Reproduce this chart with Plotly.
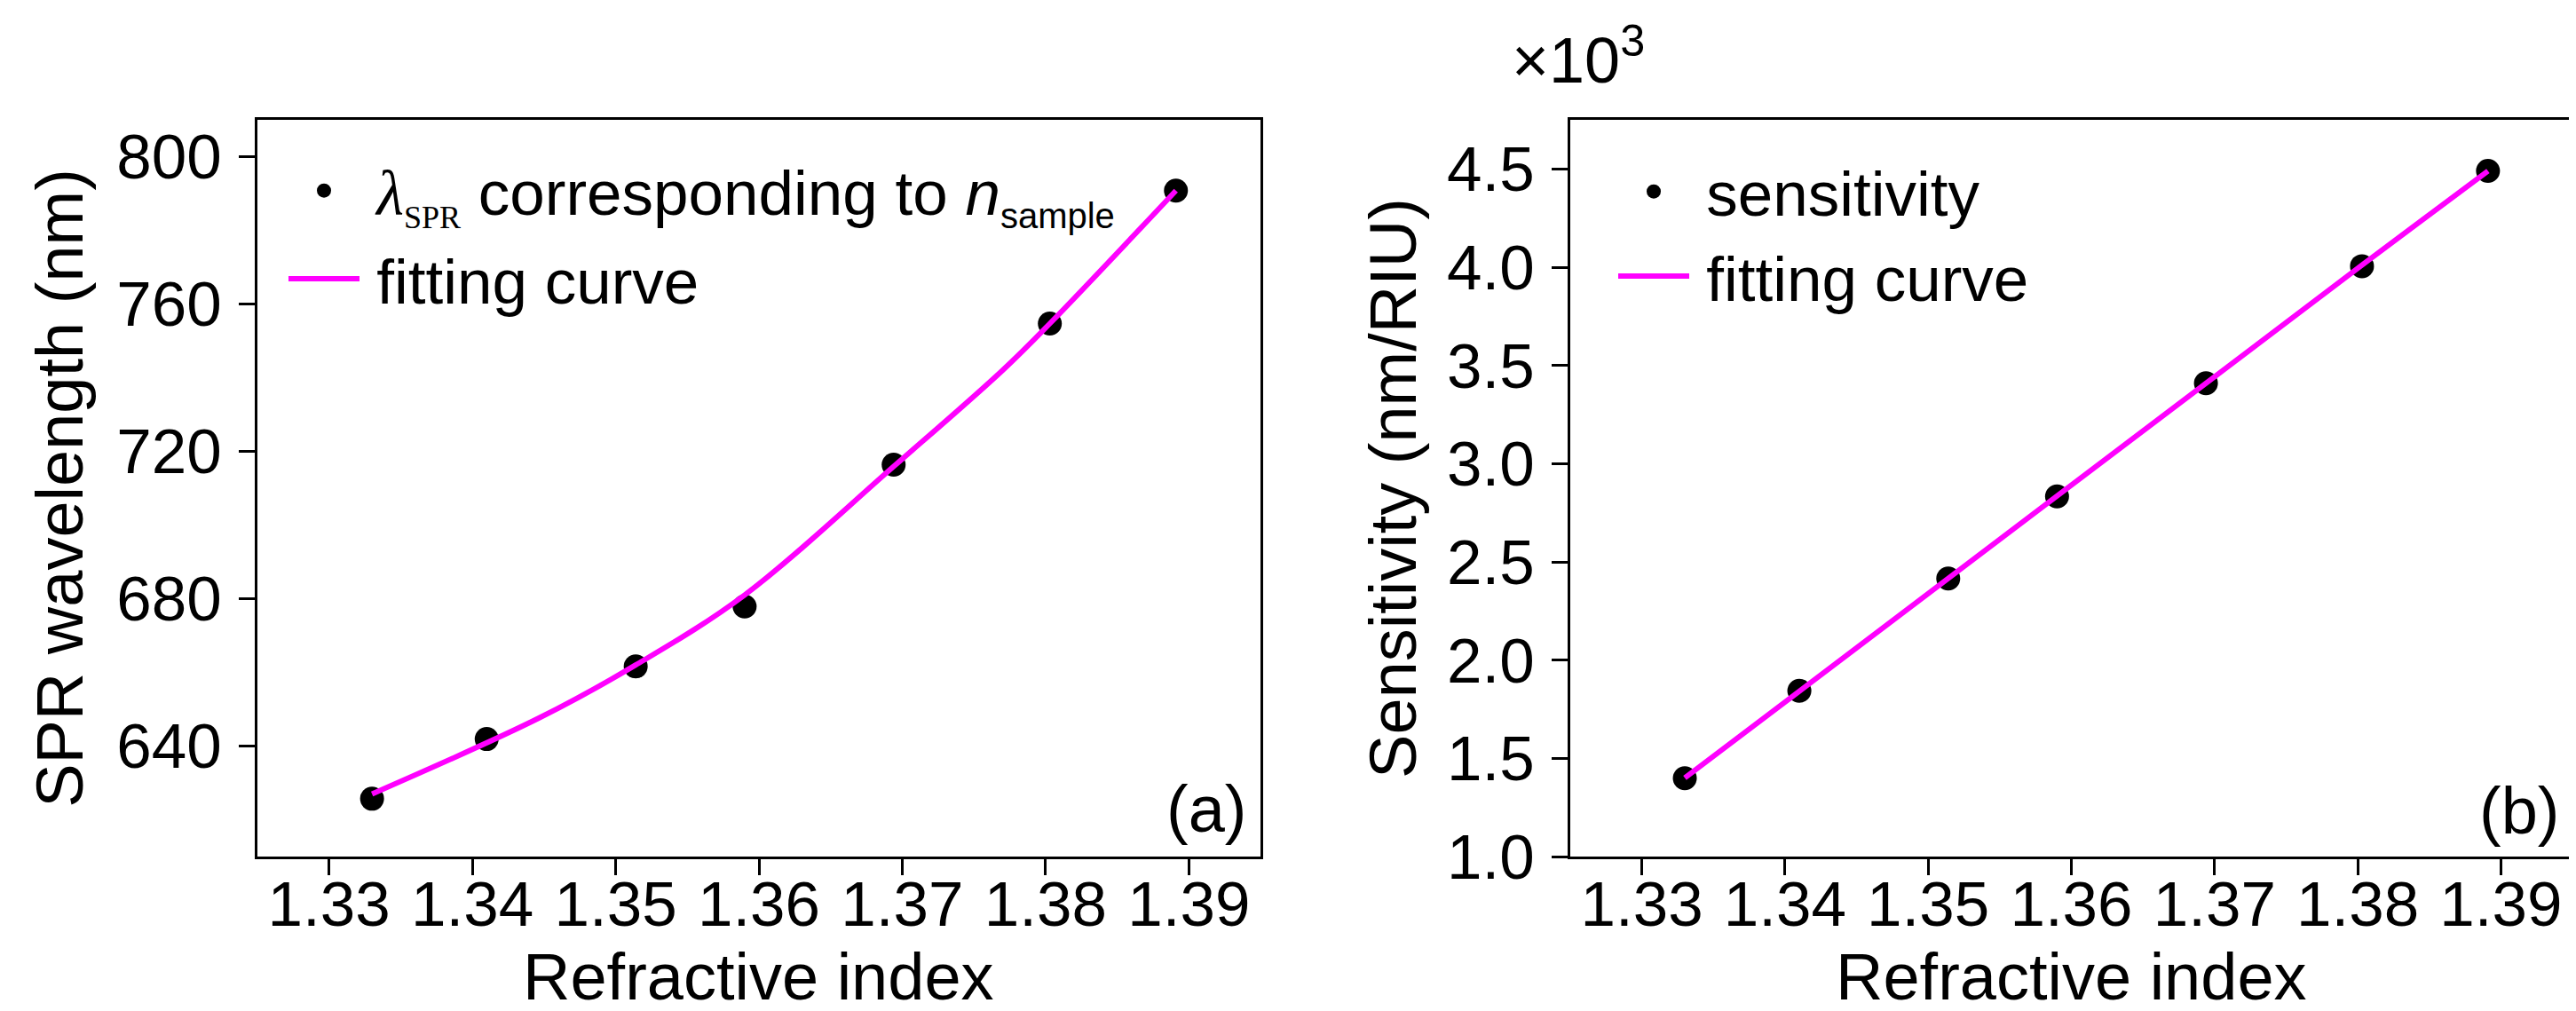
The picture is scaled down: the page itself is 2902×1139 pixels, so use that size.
"""SPR wavelength and sensitivity versus refractive index, two panels."""

import plotly.graph_objects as go
from plotly.subplots import make_subplots

refractive_index = [1.333, 1.341, 1.3514, 1.359, 1.3694, 1.3803, 1.3891]
spr_wavelength = [625.7, 641.9, 661.6, 677.9, 716.4, 754.7, 790.8]
sensitivity = [1399, 1844, 2415, 2833, 3409, 4005, 4490]

# fitting curves
fit_index_a = [1.333, 1.3447, 1.3514, 1.359, 1.3694, 1.377, 1.3803, 1.3891]
fit_wavelength = [627.0, 647.7, 662.0, 681.0, 715.9, 742.0, 754.7, 790.8]
fit_index_b = [1.333, 1.341, 1.3514, 1.359, 1.3694, 1.3803, 1.3891]
fit_sensitivity = [1400, 1842, 2416, 2835, 3409, 4011, 4490]

x_ticks = [1.33, 1.34, 1.35, 1.36, 1.37, 1.38, 1.39]
x_tick_text = ['1.33', '1.34', '1.35', '1.36', '1.37', '1.38', '1.39']
wl_ticks = [640, 680, 720, 760, 800]
sens_ticks = [1000, 1500, 2000, 2500, 3000, 3500, 4000, 4500]
sens_tick_text = ['1.0', '1.5', '2.0', '2.5', '3.0', '3.5', '4.0', '4.5']

FONT = 'Liberation Sans, Arial, sans-serif'
SERIF = 'Liberation Serif'
W, H = 2902, 1139
GAP = '\u2009'  # small gap between legend symbol and text
DOMAIN_A = [282 / W, 1412 / W]
DOMAIN_B = [1761 / W, 2890 / W]

fig = make_subplots(rows=1, cols=2)

lam_label = (
    f'{GAP}<span style="font-family:{SERIF}"><i>λ</i></span>'
    f'<sub><span style="font-family:{SERIF};font-size:36px">SPR</span></sub>'
    ' corresponding to <i>n</i>'
    '<sub><span style="font-size:40px">sample</span></sub>'
)

fig.add_trace(go.Scatter(
    x=refractive_index, y=spr_wavelength, mode='markers', name=lam_label,
    marker={'color': 'black', 'size': 27}, legend='legend', legendgroup='a1'
), row=1, col=1)
fig.add_trace(go.Scatter(
    x=fit_index_a, y=fit_wavelength, mode='lines', name=GAP + 'fitting curve',
    line={'color': '#FF00FF', 'width': 6, 'shape': 'spline'},
    legend='legend', legendgroup='a2'
), row=1, col=1)
fig.add_trace(go.Scatter(
    x=refractive_index, y=sensitivity, mode='markers', name=GAP + 'sensitivity',
    marker={'color': 'black', 'size': 27}, legend='legend2'
), row=1, col=2)
fig.add_trace(go.Scatter(
    x=fit_index_b, y=fit_sensitivity, mode='lines', name=GAP + 'fitting curve',
    line={'color': '#FF00FF', 'width': 6}, legend='legend2'
), row=1, col=2)

axis_style = dict(
    showline=True, linecolor='black', linewidth=3, mirror=True,
    ticks='outside', ticklen=18, tickwidth=3, tickcolor='black',
    showgrid=False, zeroline=False, automargin=False,
    tickfont={'size': 71, 'color': 'black'},
    title_font={'size': 74, 'color': 'black'},
)

fig.update_xaxes(axis_style)
fig.update_yaxes(axis_style)

fig.update_xaxes(
    domain=DOMAIN_A, range=[1.325, 1.395],
    tickvals=x_ticks, ticktext=x_tick_text, ticklabelstandoff=-28, row=1, col=1)
fig.update_xaxes(
    domain=DOMAIN_B, range=[1.325, 1.395],
    tickvals=x_ticks, ticktext=x_tick_text, ticklabelstandoff=-28, row=1, col=2)
fig.update_yaxes(
    domain=[1 - 957 / H, 1 - 127 / H], range=[610, 810],
    tickvals=wl_ticks, ticklabelstandoff=5,
    title_text='SPR wavelength (nm)', title_standoff=14, row=1, col=1)
fig.update_yaxes(
    domain=[1 - 957 / H, 1 - 127 / H], range=[1000, 4750],
    tickvals=sens_ticks, ticktext=sens_tick_text, ticklabelstandoff=5,
    title_text='Sensitivity (nm/RIU)', title_standoff=11, row=1, col=2)

legend_style = dict(
    xanchor='left', yanchor='top', bgcolor='rgba(0,0,0,0)',
    font={'size': 71, 'color': 'black', 'family': FONT},
    itemwidth=80,
)


def paper_text(text, x, y, size):
    return dict(text=text, x=x, y=y, xref='paper', yref='paper',
                xanchor='center', yanchor='middle', showarrow=False,
                font={'size': size, 'color': 'black'})


fig.update_layout(
    width=W, height=H,
    margin={'l': 0, 'r': 0, 't': 0, 'b': 0},
    paper_bgcolor='white', plot_bgcolor='white',
    font={'family': FONT, 'color': 'black', 'size': 71},
    showlegend=True,
    legend=dict(legend_style, x=312 / W, y=1 - 154 / H, tracegroupgap=4),
    legend2=dict(legend_style, x=1810 / W, y=1 - 155 / H, tracegroupgap=0),
    annotations=[
        # x axis titles sit right at the bottom edge, so they are placed by hand
        paper_text('Refractive index', sum(DOMAIN_A) / 2, 1 - 1092 / H, 74),
        paper_text('Refractive index', sum(DOMAIN_B) / 2, 1 - 1092 / H, 74),
        paper_text('(a)', 1351 / W, 1 - 903 / H, 74),
        paper_text('(b)', 2830 / W, 1 - 905 / H, 74),
        paper_text('×10<sup>3</sup>', 1770 / W, 1 - 54 / H, 72),
    ],
)

fig.write_html('out.html')
